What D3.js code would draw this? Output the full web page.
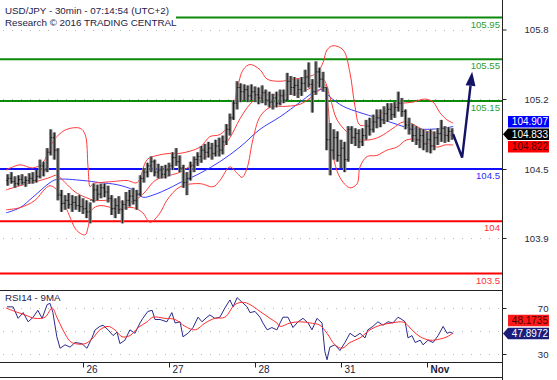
<!DOCTYPE html>
<html><head><meta charset="utf-8">
<script src="https://cdn.jsdelivr.net/npm/d3@7"></script>
<style>
body{margin:0;background:#fff}
svg{display:block;font-family:"Liberation Sans",Arial,sans-serif}
</style>
</head><body>
<svg id="c" width="557" height="380"></svg>
<script>
// ---------------- DATA ----------------
const titleLines = ["USD/JPY - 30min - 07:14:54 (UTC+2)", "Research \u00A9 2016 TRADING CENTRAL"];
const rsiTitle = "RSI14 - 9MA";

// time axis in trading hours since 25 Oct 00:00 (weekend removed)
const dayTickHours = [24, 48, 72, 96, 120];
const dayTickLabels = ["26", "27", "28", "31", "Nov"];
const dayTickBold = [false, false, false, false, true];

const firstBarHour = 3;
const opens = [104.39,104.41,104.38,104.36,104.40,104.37,104.39,104.41,104.39,104.43,
104.53,104.49,104.66,104.80,104.68,104.25,104.17,104.20,104.16,104.18,
104.15,104.14,104.12,104.09,104.20,104.30,104.26,104.32,104.28,104.22,
104.12,104.15,104.11,104.16,104.20,104.24,104.20,104.26,104.41,104.47,
104.53,104.57,104.47,104.49,104.45,104.49,104.53,104.61,104.57,104.51,
104.37,104.41,104.53,104.59,104.62,104.68,104.66,104.70,104.65,104.72,
104.68,104.76,104.88,104.99,105.13,105.28,105.24,105.26,105.20,105.24,
105.21,105.18,105.23,105.16,105.14,105.18,105.13,105.20,105.16,105.34,
105.28,105.30,105.26,105.32,105.38,105.31,105.24,105.43,105.36,105.28,
104.78,104.68,104.80,104.63,104.70,104.59,104.88,104.80,104.84,104.76,
104.82,104.91,104.88,104.95,104.99,104.97,105.03,105.07,105.02,105.09,
105.13,105.05,104.92,104.88,104.82,104.78,104.82,104.74,104.78,104.72,
104.80,104.84,104.89,104.82,104.86];
const highs = [104.45,104.47,104.43,104.44,104.45,104.43,104.46,104.47,104.49,104.59,
104.57,104.70,104.88,104.85,104.70,104.30,104.25,104.27,104.25,104.24,
104.25,104.22,104.20,104.18,104.36,104.35,104.36,104.36,104.34,104.25,
104.22,104.24,104.20,104.28,104.30,104.32,104.30,104.44,104.51,104.56,
104.62,104.59,104.55,104.53,104.54,104.56,104.66,104.70,104.63,104.54,
104.47,104.57,104.62,104.66,104.72,104.74,104.76,104.75,104.78,104.80,
104.82,104.93,105.03,105.16,105.34,105.32,105.31,105.30,105.31,105.29,
105.28,105.30,105.26,105.24,105.22,105.24,105.26,105.26,105.42,105.39,
105.38,105.36,105.38,105.45,105.52,105.36,105.53,105.47,105.43,105.28,
104.94,104.88,104.86,104.78,104.76,104.91,104.91,104.89,104.88,104.89,
104.97,104.99,105.02,105.07,105.07,105.10,105.13,105.13,105.14,105.24,
105.18,105.07,104.99,104.93,104.91,104.89,104.88,104.86,104.88,104.86,
104.89,104.97,104.91,104.90,104.89];
const lows = [104.34,104.36,104.32,104.34,104.35,104.33,104.36,104.36,104.37,104.41,
104.43,104.47,104.63,104.59,104.20,104.09,104.11,104.12,104.09,104.11,
104.09,104.07,104.03,103.98,104.18,104.20,104.22,104.23,104.18,104.06,
104.03,104.07,103.98,104.11,104.14,104.16,104.11,104.24,104.37,104.42,
104.47,104.43,104.41,104.41,104.41,104.43,104.49,104.53,104.47,104.32,
104.25,104.39,104.47,104.53,104.56,104.59,104.61,104.59,104.62,104.62,
104.64,104.73,104.82,104.97,105.07,105.14,105.16,105.14,105.16,105.14,
105.12,105.13,105.11,105.09,105.07,105.09,105.11,105.13,105.16,105.21,
105.20,105.18,105.20,105.24,105.28,105.04,105.21,105.28,105.24,104.68,
104.44,104.59,104.57,104.51,104.47,104.57,104.74,104.72,104.70,104.72,
104.78,104.82,104.85,104.89,104.90,104.93,104.95,104.97,104.99,105.05,
105.00,104.88,104.83,104.76,104.73,104.70,104.68,104.66,104.65,104.68,
104.73,104.76,104.75,104.76,104.78];
const closes = [104.41,104.38,104.36,104.40,104.37,104.39,104.41,104.39,104.43,104.53,
104.49,104.66,104.80,104.68,104.25,104.17,104.20,104.16,104.18,104.15,
104.14,104.12,104.09,104.20,104.30,104.26,104.32,104.28,104.22,104.12,
104.15,104.11,104.16,104.20,104.24,104.20,104.26,104.41,104.47,104.53,
104.57,104.47,104.49,104.45,104.49,104.53,104.61,104.57,104.51,104.37,
104.41,104.53,104.59,104.62,104.68,104.66,104.70,104.65,104.72,104.68,
104.76,104.88,104.99,105.13,105.28,105.24,105.26,105.20,105.24,105.21,
105.18,105.23,105.16,105.14,105.18,105.13,105.20,105.16,105.34,105.28,
105.30,105.26,105.32,105.38,105.31,105.24,105.43,105.36,105.28,104.78,
104.68,104.80,104.63,104.70,104.59,104.88,104.80,104.84,104.76,104.82,
104.91,104.88,104.95,104.99,104.97,105.03,105.07,105.02,105.09,105.13,
105.05,104.92,104.88,104.82,104.78,104.82,104.74,104.78,104.72,104.80,
104.84,104.89,104.82,104.86,104.833];

// Bollinger bands (upper / middle / lower) and moving average
const bbUpperHours = [2.5,6.4,10.0,12.8,14.8,16.7,19.5,23.2,24.6,25.4,26.0,26.8,28.7,32.4,36.3,39.1,41.9,44.7,48.3,51.1,56.7,59.4,62.2,65.0,67.0,68.7,70.6,73.4,75.4,79.0,82.6,86.5,89.3,91.0,92.1,93.8,96.6,98.5,99.9,101.3,104.1,106.9,110.5,113.3,116.1,119.4,121.7,123.6,125.6,127.3];
const bbUpper = [104.49,104.54,104.51,104.56,104.71,104.81,104.88,104.89,104.83,104.52,104.33,104.36,104.37,104.38,104.39,104.37,104.59,104.63,104.65,104.65,104.71,104.81,104.83,104.94,105.26,105.45,105.50,105.45,105.36,105.34,105.36,105.38,105.42,105.52,105.64,105.68,105.64,105.42,105.10,104.92,104.94,105.02,105.10,105.13,105.14,105.17,105.14,105.04,104.97,104.94];
const bbMidHours = [2.5,6.4,12.0,14.8,16.7,19.0,21.8,24.6,27.3,31.5,35.7,38.5,41.3,44.1,48.3,51.1,56.7,62.2,65.0,67.8,70.6,73.4,77.0,80.9,84.6,88.2,91.0,92.9,94.9,98.5,101.3,104.1,106.9,110.5,113.3,115.3,118.1,120.8,124.5,127.3];
const bbMid = [104.30,104.34,104.39,104.42,104.44,104.37,104.28,104.23,104.20,104.20,104.18,104.20,104.28,104.39,104.44,104.47,104.59,104.68,104.80,104.98,105.12,105.20,105.21,105.21,105.23,105.29,105.36,105.19,104.97,104.83,104.78,104.78,104.81,104.89,104.95,104.94,104.89,104.85,104.83,104.822];
const bbLowerHours = [2.5,6.4,10.6,13.4,14.8,16.7,19.5,22.3,24.6,25.4,26.5,28.7,33.5,38.0,40.7,42.7,45.5,47.4,51.1,56.7,60.3,62.2,65.0,67.0,68.4,69.8,71.4,73.4,76.2,80.9,84.6,87.4,90.1,91.5,92.4,93.5,95.7,98.5,100.5,101.3,103.3,106.0,108.8,111.6,114.4,117.2,120.0,122.8,125.0,127.3];
const bbLower = [104.11,104.13,104.20,104.31,104.34,104.30,104.11,103.91,103.87,103.94,104.11,104.15,104.12,104.13,104.08,103.99,104.08,104.20,104.33,104.36,104.33,104.39,104.52,104.46,104.42,104.51,104.78,105.00,105.09,105.10,105.12,105.18,105.26,105.31,105.10,104.68,104.42,104.32,104.36,104.52,104.62,104.63,104.68,104.71,104.78,104.78,104.75,104.71,104.73,104.73];
const maHours = [2.5,6.4,10.0,14.8,16.7,24.0,28.7,33.5,38.0,40.7,43.5,48.3,51.1,56.7,62.2,67.8,73.4,79.0,84.6,88.2,90.7,92.9,96.6,101.3,106.0,110.5,115.3,120.0,124.5,127.3];
const maValues = [104.08,104.13,104.23,104.37,104.40,104.39,104.37,104.35,104.30,104.23,104.25,104.32,104.37,104.46,104.57,104.71,104.88,105.00,105.14,105.23,105.26,105.19,105.10,105.04,104.99,104.94,104.89,104.88,104.89,104.907];

// key levels
const levelValues = [105.95, 105.55, 105.15, 104.5, 104, 103.5];
const levelLabels = ["105.95", "105.55", "105.15", "104.5", "104", "103.5"];
const levelKinds = ["res", "res", "res", "pivot", "sup", "sup"];

// forecast arrow
const forecastHours = [127.3, 129.8, 132.6];
const forecastPrices = [104.833, 104.61, 105.43];

// price axis
const yTickValues = [105.835, 105.17, 104.5, 103.84];
const yTickLabels = ["105.8", "105.2", "104.5", "103.9"];

// price tags on the right
const priceTagValues = [104.907, 104.833, 104.822];
const priceTagLabels = ["104.907", "104.833", "104.822"];
const priceTagKinds = ["ma", "last", "mid"];

// RSI panel
const rsiHours = [2.8,4.5,5.9,7.3,8.7,10.1,11.4,12.6,14.0,14.8,15.6,16.7,17.6,19.0,20.4,21.8,23.7,25.1,26.5,27.4,28.7,29.6,31.0,32.4,33.5,34.3,35.7,37.1,38.5,39.9,40.7,42.1,43.3,44.1,45.5,47.4,48.8,49.7,51.1,51.9,53.3,54.7,56.1,57.2,58.6,59.4,60.8,62.2,63.6,65.0,65.9,67.0,68.4,69.8,70.6,72.0,73.4,74.2,75.4,76.7,78.1,79.0,79.8,81.2,82.6,84.0,85.4,86.8,87.9,89.3,90.7,91.5,92.1,92.9,94.3,95.7,97.1,98.5,99.9,101.3,102.7,103.5,104.9,106.3,107.7,109.1,110.5,111.9,113.0,113.9,114.7,115.8,116.7,118.1,118.9,120.3,121.7,123.1,124.5,125.6,126.4,127.3];
const rsiValues = [71,71,61,66,58,62,68,61,73,74,66,45,35,38,36,40,39,35,44,51,54,55,51,46,49,39,42,51,48,57,61,67,68,60,60,58,66,57,58,45,48,53,62,58,62,64,61,62,70,77,71,79,75,71,66,67,62,57,51,53,51,57,62,62,53,58,61,57,51,61,57,32,25,36,38,33,40,48,45,48,44,51,54,58,55,58,57,62,60,58,44,46,40,42,38,42,40,46,54,48,49,47.8972];
const rsiMaHours = [2.5,5.0,7.8,10.6,13.4,15.4,16.7,18.4,20.4,21.8,24.6,26.8,28.7,31.0,32.9,34.9,37.1,39.4,41.9,43.5,46.9,49.7,52.5,55.3,58.1,60.8,63.6,66.4,68.7,70.6,73.4,76.2,78.1,79.0,81.8,84.6,87.4,90.1,92.1,94.3,96.3,98.5,101.3,104.1,106.9,110.2,112.5,113.9,115.8,118.1,120.8,123.6,125.6,127.3];
const rsiMaValues = [70,67,64,61,62,70,62,51,41,39,39,44,51,54,51,45,46,53,58,62,61,60,54,51,57,61,62,73,75,73,67,61,57,54,57,58,57,55,48,38,35,40,44,51,55,57,58,57,51,45,42,43,45,48.1735];
const rsiTickValues = [70, 30];
const rsiGridValues = [70, 50, 30];
const rsiTagValues = [48.1735, 47.8972];
const rsiTagLabels = ["48.1735", "47.8972"];
const rsiTagKinds = ["rsima", "rsilast"];

// ---------------- LAYOUT / STYLE ----------------
const axisX = 502, mainBottom = 290, rsiBottom = 362, figBottom = 377;
const svg = d3.select("#c");
const x = d3.scaleLinear().domain([0, 120]).range([-3, 427]);
const y = d3.scaleLinear().domain([103.5, 105.95]).range([273.5, 17.5]);
const yR = d3.scaleLinear().domain([30, 70]).range([354, 308]);

const levelColor = {res: "#0b8a0b", pivot: "#1010ff", sup: "#ff0000"};
const levelTextColor = {res: "#2e9e2e", pivot: "#2b2bff", sup: "#ff3030"};
const tagStyle = {
  ma: {fill: "#0000ff", text: "#ffffff", arrow: false},
  last: {fill: "#000000", text: "#ffffff", arrow: true},
  mid: {fill: "#ff0000", text: "#4a0000", arrow: false},
  rsima: {fill: "#ff1a1a", text: "#4a0000", arrow: false},
  rsilast: {fill: "#1c1c7a", text: "#ffffff", arrow: true}
};
const textCol = "#1b1b4a";

const defs = svg.append("defs");
defs.append("clipPath").attr("id", "clipMain").append("rect").attr("x", 0).attr("y", 0).attr("width", axisX).attr("height", mainBottom);
defs.append("clipPath").attr("id", "clipRsi").append("rect").attr("x", 0).attr("y", mainBottom).attr("width", axisX).attr("height", rsiBottom - mainBottom);

svg.append("rect").attr("width", 557).attr("height", 380).attr("fill", "#fff");

// dotted gridlines
const grid = svg.append("g").attr("stroke", "#b8b8b8").attr("stroke-dasharray", "1,8");
yTickValues.forEach(v => grid.append("line").attr("x1", 3).attr("x2", axisX).attr("y1", Math.round(y(v)) + 0.5).attr("y2", Math.round(y(v)) + 0.5));
rsiGridValues.forEach(v => grid.append("line").attr("x1", 3).attr("x2", axisX).attr("y1", Math.round(yR(v)) + 0.5).attr("y2", Math.round(yR(v)) + 0.5));

const main = svg.append("g").attr("clip-path", "url(#clipMain)");

// level lines
levelValues.forEach((v, i) => {
  main.append("line").attr("x1", 0).attr("x2", axisX).attr("y1", y(v)).attr("y2", y(v))
    .attr("stroke", levelColor[levelKinds[i]]).attr("stroke-width", 2);
});

// bands and MA
const mkLine = (xs, vs, sy) => d3.line().curve(d3.curveCatmullRom.alpha(0.5))(xs.map((h, i) => [x(h), sy(vs[i])]));
main.append("path").attr("d", mkLine(maHours, maValues, y)).attr("fill", "none").attr("stroke", "#3b3bff").attr("stroke-width", 1);
[[bbUpperHours, bbUpper], [bbMidHours, bbMid], [bbLowerHours, bbLower]].forEach(([hs, vs]) => {
  main.append("path").attr("d", mkLine(hs, vs, y)).attr("fill", "none").attr("stroke", "#ff3b3b").attr("stroke-width", 1);
});

// bars
const bars = main.append("g");
closes.forEach((c, i) => {
  const cx = x(firstBarHour + i);
  const yh = y(highs[i]), yl = y(lows[i]);
  bars.append("rect").attr("x", cx - 1.7).attr("y", yh).attr("width", 3.4).attr("height", Math.max(1, yl - yh))
    .attr("fill", "#808080");
  bars.append("line").attr("x1", cx).attr("x2", cx).attr("y1", yh).attr("y2", yl).attr("stroke", "#111").attr("stroke-width", 0.9);
  bars.append("line").attr("x1", cx - 1.5).attr("x2", cx).attr("y1", y(opens[i])).attr("y2", y(opens[i])).attr("stroke", "#111").attr("stroke-width", 0.8);
  bars.append("line").attr("x1", cx).attr("x2", cx + 1.5).attr("y1", y(c)).attr("y2", y(c)).attr("stroke", "#111").attr("stroke-width", 0.8);
});

// forecast arrow
const fpts = forecastHours.map((h, i) => [x(h), y(forecastPrices[i])]);
const tip = fpts[fpts.length - 1], prev = fpts[fpts.length - 2];
const ang = Math.atan2(tip[1] - prev[1], tip[0] - prev[0]);
const headLen = 14, headW = 5;
const base = [tip[0] - headLen * Math.cos(ang), tip[1] - headLen * Math.sin(ang)];
const linePts = fpts.slice(0, -1).concat([base]);
main.append("path").attr("d", d3.line()(linePts)).attr("fill", "none").attr("stroke", "#141466").attr("stroke-width", 2.4).attr("stroke-linejoin", "miter");
const px = -Math.sin(ang), py = Math.cos(ang);
main.append("path").attr("d", d3.line()([tip, [base[0] + px * headW, base[1] + py * headW], [base[0] - px * headW, base[1] - py * headW]]) + "Z").attr("fill", "#141466");

// title
svg.append("rect").attr("x", 0).attr("y", 0).attr("width", 176).attr("height", 29).attr("fill", "#fff");
titleLines.forEach((t, i) => {
  svg.append("text").attr("x", 5).attr("y", 13.5 + i * 12.3).attr("font-size", 9.8).attr("fill", textCol).text(t);
});

// level labels
levelValues.forEach((v, i) => {
  svg.append("text").attr("x", 500).attr("y", y(v) + 10).attr("text-anchor", "end").attr("font-size", 9.6)
    .attr("fill", levelTextColor[levelKinds[i]]).text(levelLabels[i]);
});

// RSI panel
const rsiG = svg.append("g").attr("clip-path", "url(#clipRsi)");
rsiG.append("path").attr("d", d3.line()(rsiHours.map((h, i) => [x(h), yR(rsiValues[i])]))).attr("fill", "none").attr("stroke", "#2a2a8c").attr("stroke-width", 1);
rsiG.append("path").attr("d", mkLine(rsiMaHours, rsiMaValues, yR)).attr("fill", "none").attr("stroke", "#ff2e2e").attr("stroke-width", 1);
svg.append("text").attr("x", 5).attr("y", 301).attr("font-size", 9.7).attr("fill", textCol).text(rsiTitle);

// frame lines
const frame = svg.append("g").attr("stroke", "#222").attr("stroke-width", 1);
frame.append("line").attr("x1", axisX + 0.5).attr("x2", axisX + 0.5).attr("y1", 0).attr("y2", 380);
frame.append("line").attr("x1", 0).attr("x2", axisX).attr("y1", mainBottom + 0.5).attr("y2", mainBottom + 0.5);
frame.append("line").attr("x1", 0).attr("x2", axisX).attr("y1", rsiBottom + 0.5).attr("y2", rsiBottom + 0.5);
frame.append("line").attr("x1", 0).attr("x2", axisX).attr("y1", figBottom + 0.5).attr("y2", figBottom + 0.5);

// right price axis
const yAxis = svg.append("g").attr("transform", `translate(${axisX + 0.5},0)`)
  .call(d3.axisRight(y).tickValues(yTickValues).tickFormat((d, i) => yTickLabels[i]).tickSize(4));
const rAxis = svg.append("g").attr("transform", `translate(${axisX + 0.5},0)`)
  .call(d3.axisRight(yR).tickValues(rsiTickValues).tickFormat(d3.format("d")).tickSize(4));
[yAxis, rAxis].forEach(g => {
  g.select(".domain").remove();
  g.selectAll(".tick line").attr("stroke", "#222");
  g.selectAll(".tick text").attr("x", 46).attr("text-anchor", "end").attr("font-size", 9.6)
    .attr("font-family", "Liberation Sans, Arial, sans-serif").attr("fill", "#2a2a3a");
});

// x axis (days)
const xAxis = svg.append("g").attr("transform", `translate(0,${rsiBottom + 0.5})`)
  .call(d3.axisBottom(x).tickValues(dayTickHours).tickFormat((d, i) => dayTickLabels[i]).tickSize(5));
xAxis.select(".domain").remove();
xAxis.selectAll(".tick line").attr("stroke", "#222");
xAxis.selectAll(".tick text").attr("text-anchor", "start").attr("x", 3).attr("y", 3).attr("dy", "0.71em")
  .attr("font-size", 10).attr("font-family", "Liberation Sans, Arial, sans-serif").attr("fill", "#1b1b3a")
  .attr("font-weight", (d, i) => dayTickBold[i] ? "bold" : "normal");

// value tags
function drawTags(values, labels, kinds, scale, gap) {
  const anchorIdx = kinds.findIndex(k => tagStyle[k].arrow);
  const pos = values.map(v => scale(v));
  for (let i = anchorIdx - 1; i >= 0; i--) pos[i] = Math.min(pos[i], pos[i + 1] - gap);
  for (let i = anchorIdx + 1; i < values.length; i++) pos[i] = Math.max(pos[i], pos[i - 1] + gap);
  values.forEach((v, i) => {
    const st = tagStyle[kinds[i]], cy = pos[i], h = 11.5, x0 = 508, x1 = 549;
    const pts = st.arrow
      ? [[503, cy], [x0, cy - h / 2], [x1, cy - h / 2], [x1, cy + h / 2], [x0, cy + h / 2]]
      : [[x0, cy - h / 2], [x1, cy - h / 2], [x1, cy + h / 2], [x0, cy + h / 2]];
    svg.append("path").attr("d", d3.line()(pts) + "Z").attr("fill", st.fill);
    svg.append("text").attr("x", 548).attr("y", cy + 3.7).attr("text-anchor", "end").attr("font-size", 10)
      .attr("fill", st.text).text(labels[i]);
  });
}
drawTags(priceTagValues, priceTagLabels, priceTagKinds, y, 12.5);
drawTags(rsiTagValues, rsiTagLabels, rsiTagKinds, yR, 12.8);
</script>
</body></html>
